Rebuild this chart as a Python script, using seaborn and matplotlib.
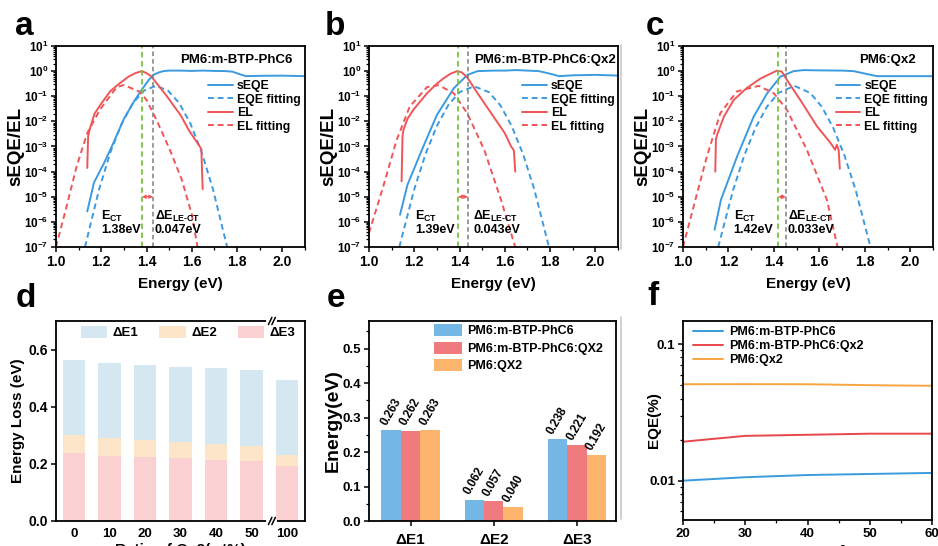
import numpy as np
import pandas as pd
import seaborn as sns
import matplotlib.pyplot as plt
from matplotlib.ticker import MultipleLocator, LogLocator, NullFormatter, FixedLocator, FixedFormatter, FormatStrFormatter
from matplotlib.lines import Line2D

# ---------------- data ----------------
# panel a  PM6:m-BTP-PhC6
seqe_a_E = [1.138, 1.168, 1.21, 1.253, 1.30, 1.345, 1.378, 1.41, 1.43, 1.455, 1.474, 1.50, 1.55, 1.60, 1.65, 1.70, 1.75, 1.78, 1.81, 1.84, 1.90, 2.00, 2.10]
seqe_a = [2.6e-6, 3.7e-5, 2.0e-4, 1.35e-3, 1.26e-2, 6.3e-2, 0.178, 0.447, 0.708, 0.89, 1.0, 1.05, 1.05, 1.02, 1.05, 1.02, 1.0, 0.95, 0.76, 0.63, 0.65, 0.66, 0.63]
eqefit_a_E = [1.128, 1.19, 1.24, 1.29, 1.34, 1.39, 1.442, 1.494, 1.544, 1.594, 1.644, 1.694, 1.756]
eqefit_a = [1e-7, 1.9e-5, 5.8e-4, 8.1e-3, 5.4e-2, 0.17, 0.26, 0.17, 5.4e-2, 8.1e-3, 5.8e-4, 1.9e-5, 1e-7]
el_a_E = [1.138, 1.142, 1.148, 1.17, 1.20, 1.24, 1.28, 1.32, 1.35, 1.38, 1.40, 1.42, 1.46, 1.49, 1.52, 1.55, 1.59, 1.62, 1.635, 1.642, 1.648]
el_a = [1.4e-4, 2.5e-3, 4.5e-3, 2.0e-2, 5.1e-2, 0.16, 0.32, 0.6, 0.83, 1.0, 0.83, 0.63, 0.22, 0.1, 0.042, 0.018, 4.0e-3, 1.6e-3, 1.0e-3, 7.9e-4, 2.0e-5]
elfit_a_E = [1.0, 1.047, 1.091, 1.138, 1.194, 1.268, 1.30, 1.37, 1.40, 1.444, 1.503, 1.555, 1.60, 1.625]
elfit_a = [1e-7, 4.2e-6, 1.6e-4, 3.4e-3, 2.9e-2, 0.23, 0.28, 0.15, 7.1e-2, 1.15e-2, 7.4e-4, 5.0e-5, 2.0e-6, 1e-7]

# panel b  PM6:m-BTP-PhC6:Qx2
seqe_b_E = [1.137, 1.17, 1.24, 1.30, 1.375, 1.435, 1.48, 1.55, 1.60, 1.65, 1.70, 1.75, 1.80, 1.84, 1.90, 2.00, 2.11]
seqe_b = [1.9e-6, 3.0e-5, 1.0e-3, 1.8e-2, 0.21, 0.71, 1.0, 1.05, 1.05, 1.1, 1.05, 1.0, 0.79, 0.63, 0.68, 0.71, 0.66]
eqefit_b_E = [1.134, 1.20, 1.25, 1.30, 1.35, 1.40, 1.464, 1.53, 1.58, 1.63, 1.68, 1.73, 1.795]
eqefit_b = [1e-7, 2.0e-5, 5.1e-4, 6.6e-3, 4.4e-2, 0.145, 0.25, 0.145, 4.4e-2, 6.6e-3, 5.1e-4, 2.0e-5, 1e-7]
el_b_E = [1.144, 1.148, 1.152, 1.17, 1.196, 1.256, 1.30, 1.33, 1.36, 1.39, 1.41, 1.434, 1.48, 1.54, 1.60, 1.628, 1.64, 1.646]
el_b = [4.1e-5, 2.5e-3, 4.6e-3, 1.26e-2, 2.9e-2, 0.13, 0.32, 0.52, 0.79, 1.0, 0.89, 0.56, 0.13, 2.1e-2, 3.4e-3, 1.0e-3, 7.0e-4, 1.0e-4]
elfit_b_E = [1.0, 1.0625, 1.122, 1.18, 1.256, 1.308, 1.375, 1.434, 1.509, 1.583, 1.646]
elfit_b = [3.6e-7, 2.5e-5, 1.8e-3, 3.9e-2, 0.23, 0.275, 0.13, 2.1e-2, 7.4e-4, 7.6e-6, 1e-7]

# panel c  PM6:Qx2
seqe_c_E = [1.139, 1.167, 1.238, 1.311, 1.37, 1.428, 1.487, 1.53, 1.60, 1.70, 1.75, 1.80, 1.853, 1.95, 2.10]
seqe_c = [4.9e-7, 7.6e-6, 4.0e-4, 1.55e-2, 0.13, 0.6, 1.0, 1.1, 1.07, 1.05, 1.0, 0.8, 0.63, 0.63, 0.63]
eqefit_c_E = [1.155, 1.22, 1.27, 1.32, 1.37, 1.42, 1.49, 1.56, 1.61, 1.66, 1.71, 1.76, 1.825]
eqefit_c = [1e-7, 1.8e-5, 4.5e-4, 5.8e-3, 3.9e-2, 0.135, 0.26, 0.135, 3.9e-2, 5.8e-3, 4.5e-4, 1.8e-5, 1e-7]
el_c_E = [1.142, 1.145, 1.15, 1.18, 1.223, 1.28, 1.34, 1.413, 1.435, 1.457, 1.516, 1.59, 1.65, 1.669, 1.677, 1.685, 1.69]
el_c = [1.0e-4, 2.0e-3, 2.9e-3, 1.55e-2, 7.1e-2, 0.21, 0.5, 1.05, 0.95, 0.45, 7.1e-2, 6.3e-3, 1.35e-3, 7.4e-4, 1.17e-3, 7.1e-4, 1.3e-4]
elfit_c_E = [1.0, 1.047, 1.105, 1.164, 1.237, 1.333, 1.40, 1.457, 1.545, 1.633, 1.68]
elfit_c = [1e-7, 4.2e-6, 4.0e-4, 2.1e-2, 0.155, 0.26, 0.13, 2.9e-2, 7.4e-4, 7.6e-6, 1e-7]

blend_titles = ['PM6:m-BTP-PhC6', 'PM6:m-BTP-PhC6:Qx2', 'PM6:Qx2']
e_ct_vals = [1.38, 1.394, 1.419]
e_le_vals = [1.429, 1.437, 1.453]
e_ct_text = ['1.38eV', '1.39eV', '1.42eV']
de_text = ['0.047eV', '0.043eV', '0.033eV']

# panel d
ratio_labels = ['0', '10', '20', '30', '40', '50', '100']
dE1_d = [0.263, 0.262, 0.263, 0.263, 0.263, 0.264, 0.262]
dE2_d = [0.062, 0.061, 0.060, 0.057, 0.056, 0.054, 0.040]
dE3_d = [0.238, 0.229, 0.224, 0.219, 0.215, 0.209, 0.192]

# panel e
loss_groups = ['ΔE1', 'ΔE2', 'ΔE3']
e_names = ['PM6:m-BTP-PhC6', 'PM6:m-BTP-PhC6:QX2', 'PM6:QX2']
e_host = [0.263, 0.062, 0.238]
e_ternary = [0.262, 0.057, 0.221]
e_qx2 = [0.263, 0.040, 0.192]

# panel f
jsc = [20, 30, 40, 50, 60]
f_names = ['PM6:m-BTP-PhC6', 'PM6:m-BTP-PhC6:Qx2', 'PM6:Qx2']
eqe_host = [0.0100, 0.0106, 0.0110, 0.0112, 0.0114]
eqe_ternary = [0.0193, 0.0213, 0.0217, 0.0221, 0.0221]
eqe_qx2 = [0.0509, 0.0510, 0.0509, 0.0501, 0.0496]

# ---------------- style ----------------
sns.set_style('ticks', {'axes.edgecolor': 'black', 'xtick.color': 'black', 'ytick.color': 'black',
                        'text.color': 'black', 'axes.labelcolor': 'black'})
plt.rcParams['font.family'] = ['Liberation Sans', 'DejaVu Sans']
plt.rcParams['font.weight'] = 'bold'
plt.rcParams['axes.labelweight'] = 'bold'
plt.rcParams['mathtext.fontset'] = 'custom'
plt.rcParams['mathtext.rm'] = 'Liberation Sans:bold'
plt.rcParams['mathtext.bf'] = 'Liberation Sans:bold'
plt.rcParams['mathtext.it'] = 'Liberation Sans:italic:bold'
plt.rcParams['mathtext.sf'] = 'Liberation Sans:bold'
plt.rcParams['axes.linewidth'] = 1.3
plt.rcParams['xtick.major.width'] = 1.1
plt.rcParams['ytick.major.width'] = 1.1
plt.rcParams['xtick.minor.width'] = 0.9
plt.rcParams['ytick.minor.width'] = 0.9
plt.rcParams['xtick.major.size'] = 3.5
plt.rcParams['ytick.major.size'] = 3.5
plt.rcParams['xtick.minor.size'] = 2
plt.rcParams['ytick.minor.size'] = 2

BLUE = '#3C9BE0'
RED = '#F05558'
GREEN = '#7DC243'
GREY = '#7F7F7F'
DASH = (0, (3, 2))

W, H = 938, 546
fig = plt.figure(figsize=(W / 100, H / 100), dpi=100)


def px_axes(x0, x1, y0, y1):
    return fig.add_axes([x0 / W, 1 - y1 / H, (x1 - x0) / W, (y1 - y0) / H])


top_boxes = [(56, 305), (369, 618), (683, 933)]
title_x = [0.95, 0.993, 0.93]
leg_x = [0.612, 0.616, 0.61]
ct_x = [1.2, 1.204, 1.223]
le_x = [1.437, 1.46, 1.46]
spectra = [
    (seqe_a_E, seqe_a, eqefit_a_E, eqefit_a, el_a_E, el_a, elfit_a_E, elfit_a),
    (seqe_b_E, seqe_b, eqefit_b_E, eqefit_b, el_b_E, el_b, elfit_b_E, elfit_b),
    (seqe_c_E, seqe_c, eqefit_c_E, eqefit_c, el_c_E, el_c, elfit_c_E, elfit_c),
]

for i, (x0, x1) in enumerate(top_boxes):
    ax = px_axes(x0, x1, 46, 247)
    sE, sY, fE, fY, lE, lY, gE, gY = spectra[i]
    sns.lineplot(x=sE, y=sY, ax=ax, color=BLUE, lw=1.4, label='sEQE', sort=False, estimator=None)
    sns.lineplot(x=fE, y=fY, ax=ax, color=BLUE, lw=1.4, linestyle=DASH, label='EQE fitting', sort=False, estimator=None)
    sns.lineplot(x=lE, y=lY, ax=ax, color=RED, lw=1.4, label='EL', sort=False, estimator=None)
    sns.lineplot(x=gE, y=gY, ax=ax, color=RED, lw=1.4, linestyle=DASH, label='EL fitting', sort=False, estimator=None)
    ax.axvline(e_ct_vals[i], color=GREEN, lw=1.3, linestyle=DASH)
    ax.axvline(e_le_vals[i], color=GREY, lw=1.1, linestyle=DASH)
    ax.annotate('', xy=(e_le_vals[i], 1e-5), xytext=(e_ct_vals[i], 1e-5),
                arrowprops=dict(arrowstyle='<->', color=RED, lw=1.0, mutation_scale=5, shrinkA=0, shrinkB=0))
    ax.set_yscale('log')
    ax.set_xlim(1.0, 2.1)
    ax.set_ylim(1e-7, 10)
    ax.xaxis.set_major_locator(MultipleLocator(0.2))
    ax.xaxis.set_major_formatter(FormatStrFormatter('%.1f'))
    ax.xaxis.set_minor_locator(MultipleLocator(0.1))
    ax.yaxis.set_major_locator(LogLocator(base=10, numticks=20))
    ax.yaxis.set_minor_locator(LogLocator(base=10, subs=np.arange(2, 10), numticks=20))
    ax.yaxis.set_minor_formatter(NullFormatter())
    ax.tick_params(axis='x', labelsize=10, pad=2)
    ax.tick_params(axis='y', labelsize=8.5, pad=2)
    ax.set_xlabel('Energy (eV)', fontsize=11)
    ax.set_ylabel('sEQE/EL', fontsize=13.5)
    ax.xaxis.set_label_coords(0.5, -0.148)
    ax.yaxis.set_label_coords(-0.128, 0.5)
    ax.text(title_x[i], 0.93, blend_titles[i], transform=ax.transAxes, ha='right', va='center', fontsize=9.5)
    ax.text(ct_x[i], 1.7e-6, r'E$_{\mathregular{CT}}$', fontsize=9, va='center')
    ax.text(ct_x[i], 4.9e-7, e_ct_text[i], fontsize=9, va='center')
    ax.text(le_x[i], 1.7e-6, r'ΔE$_{\text{LE-CT}}$', fontsize=9, va='center')
    ax.text(le_x[i], 4.9e-7, de_text[i], fontsize=9, va='center')
    ax.legend(loc='upper left', bbox_to_anchor=(leg_x[i], 0.83), frameon=False, fontsize=8.8,
              handlelength=2.0, labelspacing=0.12, handletextpad=0.35, borderaxespad=0, borderpad=0)

# ---------------- d ----------------
axd = px_axes(56, 305, 321, 521)
total_d = np.add(np.add(dE1_d, dE2_d), dE3_d)
mid_d = np.add(dE2_d, dE3_d)
sns.barplot(x=ratio_labels, y=total_d, color='#D5E8F1', width=0.63, saturation=1, errorbar=None, ax=axd, label='ΔE1', linewidth=0)
sns.barplot(x=ratio_labels, y=mid_d, color='#FCE5C8', width=0.63, saturation=1, errorbar=None, ax=axd, label='ΔE2', linewidth=0)
sns.barplot(x=ratio_labels, y=dE3_d, color='#FAD0D2', width=0.63, saturation=1, errorbar=None, ax=axd, label='ΔE3', linewidth=0)
axd.set_xlim(-0.5, 6.5)
axd.set_ylim(0, 0.7)
axd.yaxis.set_major_locator(MultipleLocator(0.2))
axd.yaxis.set_major_formatter(FormatStrFormatter('%.1f'))
axd.tick_params(axis='x', length=0, labelsize=9.5, pad=5)
axd.tick_params(axis='y', labelsize=10, pad=2)
axd.set_ylabel('Energy Loss (eV)', fontsize=11)
axd.set_xlabel('Ratio of Qx2(wt%)', fontsize=11)
axd.yaxis.set_label_coords(-0.124, 0.5)
axd.xaxis.set_label_coords(0.5, -0.11)
axd.legend(ncol=3, loc='upper left', bbox_to_anchor=(0.1, 0.975), frameon=False, fontsize=9.5,
           handlelength=2.0, handleheight=1.0, columnspacing=1.6, handletextpad=0.4, borderaxespad=0, borderpad=0)
xb = 0.867
for yb in (0, 1):
    axd.plot([xb - 0.014, xb + 0.014], [yb, yb], transform=axd.transAxes, color='white', lw=3, clip_on=False, zorder=5)
    for dx in (-0.007, 0.007):
        axd.plot([xb + dx - 0.007, xb + dx + 0.007], [yb - 0.018, yb + 0.018], transform=axd.transAxes,
                 color='black', lw=1.1, clip_on=False, zorder=6)

# ---------------- e ----------------
axe = px_axes(369, 616, 321, 521)
e_df = pd.DataFrame({
    'group': loss_groups * 3,
    'blend': [e_names[0]] * 3 + [e_names[1]] * 3 + [e_names[2]] * 3,
    'value': e_host + e_ternary + e_qx2,
})
sns.barplot(data=e_df, x='group', y='value', hue='blend', palette=['#74B6E6', '#EF7B7F', '#FDB46C'],
            width=0.7, saturation=1, errorbar=None, ax=axe, linewidth=0)
for cont in axe.containers:
    axe.bar_label(cont, fmt='%.3f', rotation=60, padding=2, fontsize=8.5)
axe.set_xlim(-0.5, 2.47)
axe.set_ylim(0, 0.58)
axe.yaxis.set_major_locator(MultipleLocator(0.1))
axe.yaxis.set_major_formatter(FormatStrFormatter('%.1f'))
axe.yaxis.set_minor_locator(MultipleLocator(0.05))
axe.tick_params(axis='x', labelsize=11, pad=5)
axe.tick_params(axis='y', labelsize=9.5, pad=2)
axe.set_ylabel('Energy(eV)', fontsize=14)
axe.yaxis.set_label_coords(-0.109, 0.5)
axe.set_xlabel('')
handles, labels = axe.get_legend_handles_labels()
axe.legend(handles, labels, loc='upper left', bbox_to_anchor=(0.265, 0.985), frameon=False, fontsize=9,
           handlelength=2.2, handleheight=1.1, labelspacing=0.35, handletextpad=0.4, borderaxespad=0, borderpad=0)

# ---------------- f ----------------
axf = px_axes(683, 932, 321, 520)
for name, vals, col in zip(f_names, [eqe_host, eqe_ternary, eqe_qx2], ['#3A9BDC', '#E8474C', '#F7A541']):
    sns.lineplot(x=jsc, y=vals, ax=axf, color=col, lw=1.4, label=name, sort=False, estimator=None)
axf.set_yscale('log')
axf.set_xlim(20, 60)
axf.set_ylim(0.00515, 0.148)
axf.yaxis.set_major_locator(FixedLocator([0.01, 0.1]))
axf.yaxis.set_major_formatter(FixedFormatter(['0.01', '0.1']))
axf.yaxis.set_minor_locator(LogLocator(base=10, subs=np.arange(2, 10), numticks=20))
axf.yaxis.set_minor_formatter(NullFormatter())
axf.xaxis.set_major_locator(MultipleLocator(10))
axf.xaxis.set_minor_locator(MultipleLocator(5))
axf.tick_params(axis='both', labelsize=9.5, pad=2)
axf.set_ylabel('EQE(%)', fontsize=11)
axf.yaxis.set_label_coords(-0.088, 0.5)
axf.set_xlabel(r'J (mA cm$^{-2}$)', fontsize=11)
axf.xaxis.set_label_coords(0.5, -0.118)
axf.legend(loc='upper left', bbox_to_anchor=(0.04, 0.975), frameon=False, fontsize=9,
           handlelength=2.4, labelspacing=0.18, handletextpad=0.5, borderaxespad=0, borderpad=0)

# ---------------- panel letters and edge lines ----------------
for letter, x, y in [('a', 15, 35), ('b', 325, 35), ('c', 646, 35), ('d', 16, 307), ('e', 327, 307), ('f', 647, 305)]:
    fig.text(x / W, 1 - y / H, letter, fontsize=24, fontweight='bold', va='baseline', ha='left')
for y0, y1 in [(45, 249), (317, 519)]:
    fig.add_artist(Line2D([621 / W, 621 / W], [1 - y0 / H, 1 - y1 / H], color='#c8c8c8', lw=1.2))

fig.savefig('out.png', dpi=100)
